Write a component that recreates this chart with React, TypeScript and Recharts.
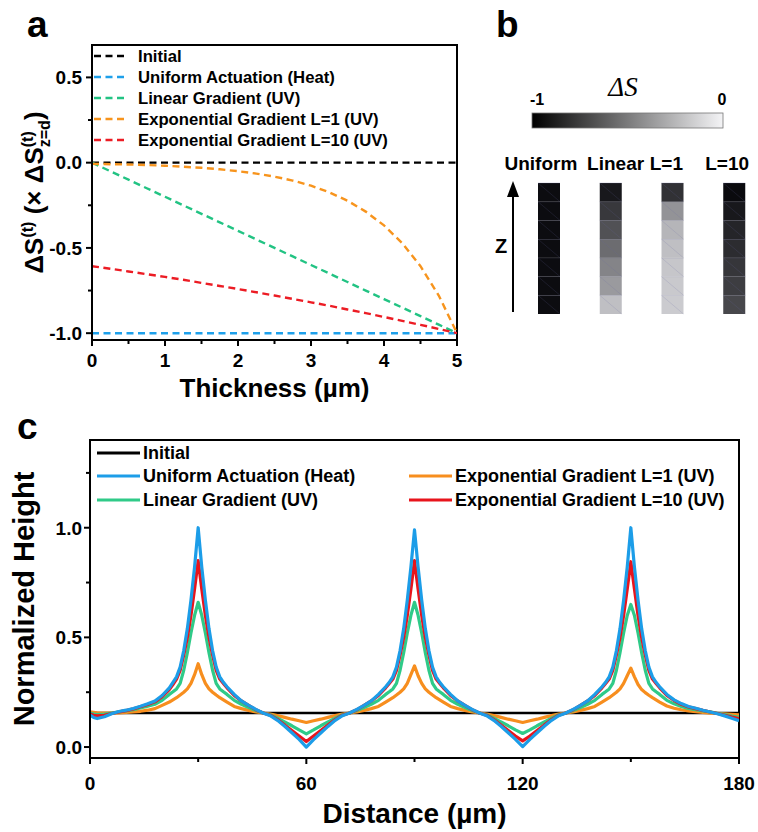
import React from 'react';
import { LineChart, Line, XAxis, YAxis, Legend, Label, BarChart, Bar, Cell, ReferenceArea } from 'recharts';

const FONT = 'Arial, "Liberation Sans", Helvetica, sans-serif';

// ---------------- Panel a data ----------------
const THICKNESS = [0, 0.25, 0.5, 0.75, 1, 1.25, 1.5, 1.75, 2, 2.25, 2.5, 2.75, 3, 3.25, 3.5, 3.75, 4, 4.25, 4.5, 4.75, 5];
const A_INITIAL = [0, 0, 0, 0, 0, 0, 0, 0, 0, 0, 0, 0, 0, 0, 0, 0, 0, 0, 0, 0, 0];
const A_UNIFORM = [-1, -1, -1, -1, -1, -1, -1, -1, -1, -1, -1, -1, -1, -1, -1, -1, -1, -1, -1, -1, -1];
const A_LINEAR = [0, -0.05, -0.1, -0.15, -0.2, -0.25, -0.3, -0.35, -0.4, -0.45, -0.5, -0.55, -0.6, -0.65, -0.7, -0.75, -0.8, -0.85, -0.9, -0.95, -1];
const A_EXP1 = [-0.007, -0.009, -0.011, -0.014, -0.018, -0.024, -0.03, -0.039, -0.05, -0.064, -0.082, -0.105, -0.135, -0.174, -0.223, -0.287, -0.368, -0.472, -0.607, -0.779, -1];
const A_EXP10 = [-0.607, -0.622, -0.638, -0.654, -0.67, -0.687, -0.705, -0.723, -0.741, -0.76, -0.779, -0.799, -0.819, -0.839, -0.861, -0.882, -0.905, -0.928, -0.951, -0.975, -1];
const A_X_TICKS = [0, 0.5, 1, 1.5, 2, 2.5, 3, 3.5, 4, 4.5, 5];
const A_Y_TICKS = [-1, -0.75, -0.5, -0.25, 0, 0.25, 0.5];

const A_SERIES = [
  { key: 'initial', name: 'Initial', color: '#000000' },
  { key: 'uniform', name: 'Uniform Actuation (Heat)', color: '#1ea0ea' },
  { key: 'linear', name: 'Linear Gradient (UV)', color: '#22c383' },
  { key: 'exp1', name: 'Exponential Gradient L=1 (UV)', color: '#f7941d' },
  { key: 'exp10', name: 'Exponential Gradient L=10 (UV)', color: '#ec1c24' },
];

const dataA = THICKNESS.map((x, i) => ({
  x,
  initial: A_INITIAL[i],
  uniform: A_UNIFORM[i],
  linear: A_LINEAR[i],
  exp1: A_EXP1[i],
  exp10: A_EXP10[i],
}));

// ---------------- Panel b data ----------------
const B_COLUMNS = ['Uniform', 'Linear', 'L=1', 'L=10'];
// ΔS of each mesh cell, bottom → top
const B_UNIFORM = [-0.95, -0.95, -0.95, -0.95, -0.95, -0.95, -0.95];
const B_LINEAR = [-0.22, -0.37, -0.46, -0.56, -0.67, -0.77, -0.9];
const B_L1 = [-0.17, -0.18, -0.19, -0.22, -0.26, -0.4, -0.8];
const B_L10 = [-0.71, -0.75, -0.78, -0.82, -0.85, -0.9, -0.96];
const B_VALUES = [B_UNIFORM, B_LINEAR, B_L1, B_L10];
const B_LAYERS = [0, 1, 2, 3, 4, 5, 6];
// small horizontal nudges of the column captions (style only)
const B_LABEL_NUDGE: Record<string, number> = { Uniform: -8, Linear: 5, 'L=1': -6, 'L=10': -7 };

const dataB = B_COLUMNS.map((name) => {
  const row: any = { name };
  B_LAYERS.forEach((k) => { row['c' + k] = 1; });
  return row;
});

const grayOf = (ds: number) => {
  const g = Math.max(0, Math.min(245, Math.round((1 + ds) * 245)));
  return `rgb(${g},${g},${Math.min(255, g + 4)})`;
};

// ---------------- Panel c data ----------------
const DISTANCE = [
  0, 1, 2, 4, 6, 8, 10, 12, 14, 16, 18, 20, 22, 23, 24, 25, 26, 27, 28, 29, 30,
  31, 32, 33, 34, 35, 36, 37, 38, 40, 42, 44, 46, 48,
  50, 52, 54, 56, 58, 60, 62, 64, 66, 68, 70, 72,
  74, 76, 78, 80, 82, 83, 84, 85, 86, 87, 88, 89, 90,
  91, 92, 93, 94, 95, 96, 97, 98, 100, 102, 104, 106, 108,
  110, 112, 114, 116, 118, 120, 122, 124, 126, 128, 130, 132,
  134, 136, 138, 140, 142, 143, 144, 145, 146, 147, 148, 149, 150,
  151, 152, 153, 154, 155, 156, 157, 158, 160, 162, 164, 166,
  168, 170, 172, 174, 176, 178, 180,
];
const C_INITIAL_LEVEL = 0.155;
const C_UNIFORM = [
  0.145, 0.135, 0.13, 0.138, 0.152, 0.162, 0.168, 0.176, 0.186, 0.197, 0.21, 0.235, 0.27, 0.295, 0.32, 0.365, 0.44, 0.54, 0.67, 0.82, 1.0,
  0.82, 0.67, 0.54, 0.44, 0.365, 0.32, 0.295, 0.275, 0.24, 0.21, 0.19, 0.172, 0.155,
  0.143, 0.122, 0.095, 0.065, 0.035, 0.0, 0.034, 0.064, 0.094, 0.122, 0.143, 0.155,
  0.172, 0.19, 0.21, 0.24, 0.275, 0.295, 0.32, 0.365, 0.44, 0.54, 0.67, 0.82, 0.99,
  0.82, 0.67, 0.54, 0.44, 0.365, 0.32, 0.295, 0.275, 0.24, 0.21, 0.19, 0.172, 0.155,
  0.143, 0.122, 0.095, 0.065, 0.035, 0.002, 0.035, 0.065, 0.095, 0.122, 0.143, 0.155,
  0.172, 0.19, 0.21, 0.24, 0.275, 0.295, 0.32, 0.365, 0.44, 0.54, 0.67, 0.82, 1.0,
  0.82, 0.67, 0.54, 0.44, 0.365, 0.32, 0.295, 0.275, 0.24, 0.215, 0.198, 0.185,
  0.177, 0.168, 0.16, 0.152, 0.142, 0.131, 0.12,
];
const C_EXP10 = [
  0.15, 0.145, 0.142, 0.145, 0.153, 0.16, 0.166, 0.174, 0.184, 0.194, 0.206, 0.23, 0.262, 0.285, 0.31, 0.35, 0.42, 0.5, 0.6, 0.72, 0.85,
  0.72, 0.6, 0.5, 0.42, 0.35, 0.31, 0.29, 0.27, 0.235, 0.21, 0.19, 0.17, 0.155,
  0.145, 0.125, 0.1, 0.075, 0.05, 0.025, 0.05, 0.075, 0.1, 0.125, 0.145, 0.155,
  0.17, 0.19, 0.21, 0.235, 0.27, 0.29, 0.31, 0.35, 0.42, 0.5, 0.6, 0.72, 0.85,
  0.72, 0.6, 0.5, 0.42, 0.35, 0.31, 0.29, 0.27, 0.235, 0.21, 0.19, 0.17, 0.155,
  0.145, 0.125, 0.1, 0.075, 0.05, 0.028, 0.05, 0.075, 0.1, 0.125, 0.145, 0.155,
  0.17, 0.19, 0.21, 0.235, 0.27, 0.29, 0.31, 0.35, 0.42, 0.5, 0.6, 0.72, 0.845,
  0.72, 0.6, 0.5, 0.42, 0.35, 0.31, 0.29, 0.27, 0.235, 0.212, 0.195, 0.183,
  0.175, 0.167, 0.16, 0.153, 0.145, 0.137, 0.13,
];
const C_LINEAR = [
  0.155, 0.15, 0.148, 0.15, 0.155, 0.16, 0.165, 0.17, 0.178, 0.186, 0.195, 0.213, 0.24, 0.252, 0.265, 0.29, 0.35, 0.43, 0.52, 0.6, 0.66,
  0.6, 0.52, 0.43, 0.35, 0.29, 0.265, 0.252, 0.24, 0.213, 0.195, 0.18, 0.167, 0.155,
  0.147, 0.132, 0.115, 0.097, 0.078, 0.06, 0.078, 0.097, 0.115, 0.132, 0.147, 0.155,
  0.167, 0.18, 0.195, 0.213, 0.24, 0.252, 0.265, 0.29, 0.35, 0.43, 0.52, 0.6, 0.66,
  0.6, 0.52, 0.43, 0.35, 0.29, 0.265, 0.252, 0.24, 0.213, 0.195, 0.18, 0.167, 0.155,
  0.147, 0.132, 0.115, 0.097, 0.078, 0.062, 0.078, 0.097, 0.115, 0.132, 0.147, 0.155,
  0.167, 0.18, 0.195, 0.213, 0.24, 0.252, 0.265, 0.29, 0.35, 0.43, 0.52, 0.6, 0.65,
  0.6, 0.52, 0.43, 0.35, 0.29, 0.265, 0.252, 0.24, 0.213, 0.197, 0.185, 0.176,
  0.17, 0.165, 0.16, 0.154, 0.148, 0.141, 0.135,
];
const C_EXP1 = [
  0.16, 0.158, 0.156, 0.155, 0.155, 0.156, 0.158, 0.16, 0.163, 0.168, 0.175, 0.19, 0.205, 0.215, 0.225, 0.237, 0.25, 0.265, 0.29, 0.33, 0.38,
  0.33, 0.29, 0.265, 0.25, 0.237, 0.225, 0.215, 0.205, 0.185, 0.175, 0.167, 0.16, 0.155,
  0.15, 0.143, 0.135, 0.127, 0.12, 0.112, 0.12, 0.127, 0.135, 0.143, 0.15, 0.155,
  0.16, 0.167, 0.175, 0.185, 0.205, 0.215, 0.225, 0.237, 0.25, 0.265, 0.29, 0.33, 0.37,
  0.325, 0.29, 0.265, 0.25, 0.237, 0.225, 0.215, 0.205, 0.185, 0.175, 0.167, 0.16, 0.155,
  0.15, 0.143, 0.135, 0.127, 0.12, 0.112, 0.12, 0.127, 0.135, 0.143, 0.15, 0.155,
  0.16, 0.167, 0.175, 0.185, 0.205, 0.215, 0.225, 0.237, 0.25, 0.265, 0.29, 0.325, 0.36,
  0.32, 0.285, 0.262, 0.248, 0.236, 0.225, 0.215, 0.205, 0.187, 0.177, 0.17, 0.165,
  0.161, 0.158, 0.155, 0.153, 0.151, 0.149, 0.147,
];
const C_X_TICKS = [0, 30, 60, 90, 120, 150, 180];
const C_Y_TICKS = [0, 0.25, 0.5, 0.75, 1, 1.25];

// legend order
const C_SERIES = [
  { key: 'initial', name: 'Initial', color: '#000000' },
  { key: 'uniform', name: 'Uniform Actuation (Heat)', color: '#1c9de8' },
  { key: 'linear', name: 'Linear Gradient (UV)', color: '#2fca88' },
  { key: 'exp1', name: 'Exponential Gradient L=1 (UV)', color: '#f78e1e' },
  { key: 'exp10', name: 'Exponential Gradient L=10 (UV)', color: '#e8141c' },
];
// drawing order (bottom → top)
const C_DRAW_ORDER = ['initial', 'exp1', 'linear', 'exp10', 'uniform'];
const C_LEGEND_SLOTS: Record<string, [number, number]> = {
  initial: [0, 0], uniform: [0, 1], linear: [0, 2], exp1: [1, 1], exp10: [1, 2],
};

const dataC = DISTANCE.map((x, i) => ({
  x,
  initial: C_INITIAL_LEVEL,
  uniform: C_UNIFORM[i],
  linear: C_LINEAR[i],
  exp1: C_EXP1[i],
  exp10: C_EXP10[i],
}));

// ---------------- helpers ----------------
const isMult = (v: number, step: number) => Math.abs(v / step - Math.round(v / step)) < 1e-6;

const makeXTick = (majorStep: number, labelDy: number, fontSize: number, fmt: (v: number) => string) =>
  (props: any) => {
    const { x, y, payload } = props;
    const major = isMult(payload.value, majorStep);
    return (
      <g>
        <line x1={x} x2={x} y1={y} y2={y + (major ? 6 : 4)} stroke="#000" strokeWidth={2} />
        {major && (
          <text x={x} y={y + labelDy} textAnchor="middle" fontSize={fontSize} fontWeight="bold" fontFamily={FONT} fill="#000">
            {fmt(payload.value)}
          </text>
        )}
      </g>
    );
  };

const makeYTick = (majorStep: number, gap: number, fontSize: number) =>
  (props: any) => {
    const { x, y, payload } = props;
    const major = isMult(payload.value, majorStep);
    return (
      <g>
        <line x1={x - (major ? 6 : 4)} x2={x} y1={y} y2={y} stroke="#000" strokeWidth={2} />
        {major && (
          <text x={x - gap} y={y} dy="0.36em" textAnchor="end" fontSize={fontSize} fontWeight="bold" fontFamily={FONT} fill="#000">
            {payload.value.toFixed(1)}
          </text>
        )}
      </g>
    );
  };

const AXIS_LINE = { stroke: '#000', strokeWidth: 2 };

const LegendA = () => (
  <svg width={370} height={110} style={{ display: 'block', overflow: 'visible' }}>
    {A_SERIES.map((s, i) => (
      <g key={s.key}>
        <line x1={2} x2={36} y1={11 + 21 * i} y2={11 + 21 * i} stroke={s.color} strokeWidth={2.4} strokeDasharray="7 4.5" />
        <text x={46} y={11 + 21 * i + 6} fontSize={16.7} fontWeight="bold" fontFamily={FONT} fill="#000">{s.name}</text>
      </g>
    ))}
  </svg>
);

const LegendC = () => (
  <svg width={649} height={75} style={{ display: 'block', overflow: 'visible' }}>
    {C_SERIES.map((s) => {
      const [col, row] = C_LEGEND_SLOTS[s.key];
      const x0 = col === 0 ? 7 : 319;
      const yy = [13, 36, 60][row];
      return (
        <g key={s.key}>
          <line x1={x0} x2={x0 + 43} y1={yy} y2={yy} stroke={s.color} strokeWidth={3.2} />
          <text x={x0 + 46} y={yy + 6.4} fontSize={18} fontWeight="bold" fontFamily={FONT} fill="#000">{s.name}</text>
        </g>
      );
    })}
  </svg>
);

const MeshCell = (p: any) => {
  const { x, y, width, height, fill } = p;
  return (
    <g>
      <rect x={x} y={y} width={width} height={height} fill={fill} />
      <line x1={x} y1={y} x2={x + width} y2={y + height} stroke="#6a6aa0" strokeOpacity={0.25} strokeWidth={0.7} />
      <line x1={x} y1={y} x2={x + width} y2={y} stroke="#6a6aa0" strokeOpacity={0.35} strokeWidth={0.7} />
    </g>
  );
};

const ColTick = (props: any) => {
  const { x, y, payload } = props;
  return (
    <text x={x + (B_LABEL_NUDGE[payload.value] || 0)} y={y - 13} textAnchor="middle" fontSize={19} fontWeight="bold" fontFamily={FONT} fill="#000">
      {payload.value}
    </text>
  );
};

export default function App() {
  return (
    <div style={{ position: 'absolute', left: 0, top: 0, width: 758, height: 832, overflow: 'hidden', background: '#fff', fontFamily: FONT }}>
      {/* Panel a */}
      <div style={{ position: 'absolute', left: 0, top: 0 }}>
        <LineChart width={480} height={410} data={dataA} margin={{ top: 45, right: 23, bottom: 40, left: 0 }}>
          <ReferenceArea x1={0} x2={5} fill="none" fillOpacity={0} stroke="#000" strokeWidth={2} />
          <XAxis
            dataKey="x" type="number" domain={[0, 5]} ticks={A_X_TICKS} allowDataOverflow
            tickSize={0} tickMargin={0} height={30} axisLine={AXIS_LINE} tickLine={false}
            tick={makeXTick(1, 27, 19, (v) => String(v))} interval={0}
          >
            <Label content={(p: any) => (
              <text x={p.viewBox.x + p.viewBox.width / 2} y={p.viewBox.y + 57} textAnchor="middle" fontSize={26} fontWeight="bold" fontFamily={FONT} fill="#000">
                Thickness (µm)
              </text>
            )} />
          </XAxis>
          <YAxis
            type="number" domain={[-1.04, 0.69]} ticks={A_Y_TICKS} allowDataOverflow width={92}
            tickSize={0} tickMargin={0} axisLine={AXIS_LINE} tickLine={false} tick={makeYTick(0.5, 10, 19)} interval={0}
          >
            <Label content={(p: any) => {
              const cx = 43;
              const cy = p.viewBox.y + p.viewBox.height / 2;
              return (
                <text x={cx} y={cy} transform={`rotate(-90 ${cx} ${cy})`} textAnchor="middle" fontSize={26} fontWeight="bold" fontFamily={FONT} fill="#000">
                  ΔS<tspan dy={-10} fontSize={16}>(t)</tspan>
                  <tspan dy={10}> (× ΔS</tspan>
                  <tspan dy={-10} fontSize={16}>(t)</tspan>
                  <tspan dx={-16} dy={17} fontSize={16}>z=d</tspan>
                  <tspan dy={-7}>)</tspan>
                </text>
              );
            }} />
          </YAxis>
          <Legend
            content={() => <LegendA />} layout="horizontal" verticalAlign="middle" align="center"
            wrapperStyle={{ left: 92, top: 45, width: 370, height: 110 }}
          />
          {A_SERIES.map((s) => (
            <Line key={s.key} dataKey={s.key} name={s.name} stroke={s.color} strokeWidth={2.4} strokeDasharray="7 4.5"
              dot={false} activeDot={false} type="linear" isAnimationActive={false} />
          ))}
        </LineChart>
      </div>

      {/* Panel b decorations: colour bar + Z arrow */}
      <svg style={{ position: 'absolute', left: 470, top: 0 }} width={288} height={340}>
        <defs>
          <linearGradient id="dsGrad" x1="0" x2="1" y1="0" y2="0">
            <stop offset="0" stopColor="#000000" />
            <stop offset="1" stopColor="#f4f4f6" />
          </linearGradient>
        </defs>
        <text x={153} y={96} textAnchor="middle" fontSize={27} fontStyle="italic" fontFamily='"Liberation Serif", "Times New Roman", serif' fill="#000">ΔS</text>
        <text x={67} y={105} textAnchor="middle" fontSize={16} fontWeight="bold" fontFamily={FONT} fill="#000">-1</text>
        <text x={252} y={105} textAnchor="middle" fontSize={16} fontWeight="bold" fontFamily={FONT} fill="#000">0</text>
        <rect x={62} y={113} width={191} height={15} fill="url(#dsGrad)" stroke="#777" strokeWidth={0.8} />
        <line x1={43} y1={312} x2={43} y2={194} stroke="#000" strokeWidth={2} />
        <polygon points="43,181 37,197 49,197" fill="#000" />
        <text x={31} y={253} textAnchor="middle" fontSize={20} fontWeight="bold" fontFamily={FONT} fill="#000">Z</text>
      </svg>

      {/* Panel b */}
      <div style={{ position: 'absolute', left: 470, top: 140 }}>
        <BarChart width={295} height={190} data={dataB} margin={{ top: 13, right: 0, bottom: 16, left: 48 }} barSize={22}>
          <XAxis dataKey="name" orientation="top" height={30} axisLine={false} tickLine={false} tickSize={0} tickMargin={0} tick={ColTick} interval={0} />
          <YAxis hide domain={[0, 7]} type="number" />
          {B_LAYERS.map((k) => (
            <Bar key={k} dataKey={'c' + k} stackId="mesh" isAnimationActive={false} shape={MeshCell}>
              {B_COLUMNS.map((c, i) => (
                <Cell key={c} fill={grayOf(B_VALUES[i][k])} />
              ))}
            </Bar>
          ))}
        </BarChart>
      </div>

      {/* Panel c */}
      <div style={{ position: 'absolute', left: 0, top: 400 }}>
        <LineChart width={758} height={432} data={dataC} margin={{ top: 40, right: 19, bottom: 44, left: 0 }}>
          <ReferenceArea x1={0} x2={180} fill="none" fillOpacity={0} stroke="#000" strokeWidth={2} />
          <XAxis
            dataKey="x" type="number" domain={[0, 180]} ticks={C_X_TICKS} allowDataOverflow
            tickSize={0} tickMargin={0} height={30} axisLine={AXIS_LINE} tickLine={false}
            tick={makeXTick(60, 32, 19, (v) => String(v))} interval={0}
          >
            <Label content={(p: any) => (
              <text x={p.viewBox.x + p.viewBox.width / 2} y={p.viewBox.y + 65} textAnchor="middle" fontSize={28} fontWeight="bold" fontFamily={FONT} fill="#000">
                Distance (µm)
              </text>
            )} />
          </XAxis>
          <YAxis
            type="number" domain={[-0.05, 1.4]} ticks={C_Y_TICKS} allowDataOverflow width={90}
            tickSize={0} tickMargin={0} axisLine={AXIS_LINE} tickLine={false} tick={makeYTick(0.5, 8, 19)} interval={0}
          >
            <Label content={(p: any) => {
              const cx = 34;
              const cy = p.viewBox.y + p.viewBox.height / 2;
              return (
                <text x={cx} y={cy} transform={`rotate(-90 ${cx} ${cy})`} textAnchor="middle" fontSize={29} fontWeight="bold" fontFamily={FONT} fill="#000">
                  Normalized Height
                </text>
              );
            }} />
          </YAxis>
          <Legend
            content={() => <LegendC />} layout="horizontal" verticalAlign="middle" align="center"
            wrapperStyle={{ left: 90, top: 40, width: 649, height: 75 }}
          />
          {C_DRAW_ORDER.map((key) => {
            const s = C_SERIES.find((c) => c.key === key)!;
            return (
              <Line key={s.key} dataKey={s.key} name={s.name} stroke={s.color} strokeWidth={key === 'initial' ? 2.4 : 3.2}
                dot={false} activeDot={false} type="linear" strokeLinejoin="round" isAnimationActive={false} />
            );
          })}
        </LineChart>
      </div>

      {/* Panel letters */}
      <svg style={{ position: 'absolute', left: 0, top: 0, pointerEvents: 'none' }} width={758} height={832}>
        <text x={27} y={37} fontSize={37} fontWeight="bold" fontFamily={FONT} fill="#000">a</text>
        <text x={496} y={37} fontSize={37} fontWeight="bold" fontFamily={FONT} fill="#000">b</text>
        <text x={17} y={439} fontSize={37} fontWeight="bold" fontFamily={FONT} fill="#000">c</text>
      </svg>
    </div>
  );
}
